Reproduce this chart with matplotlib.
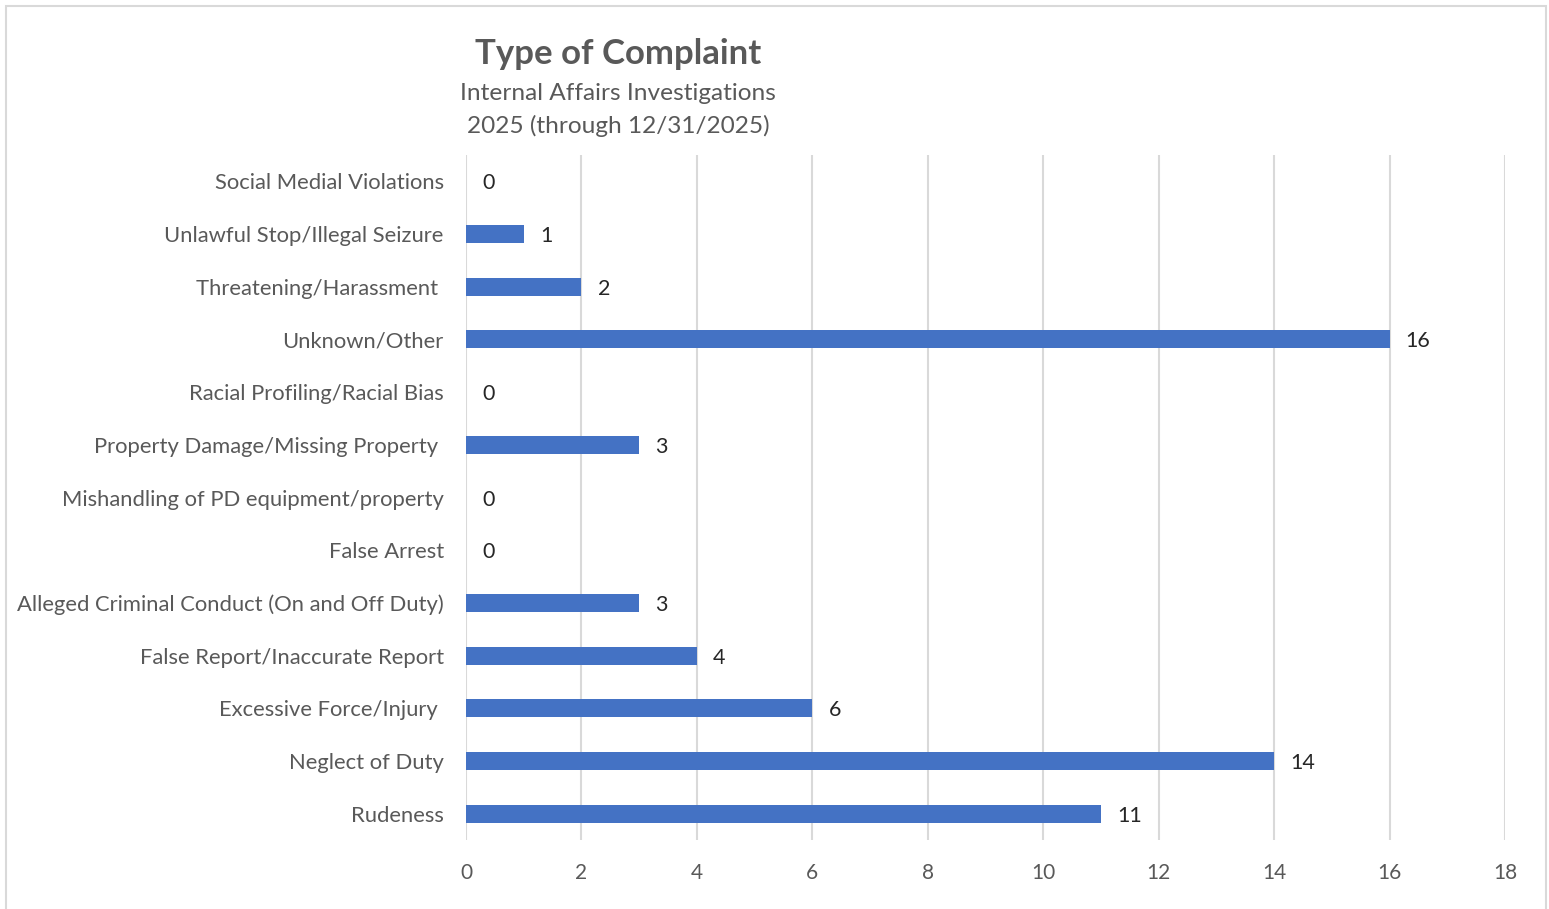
import numpy as np
import matplotlib.pyplot as plt
from matplotlib.patches import Rectangle

categories = ['Social Medial Violations', 'Unlawful Stop/Illegal Seizure', 'Threatening/Harassment ',
              'Unknown/Other', 'Racial Profiling/Racial Bias', 'Property Damage/Missing Property ',
              'Mishandling of PD equipment/property', 'False Arrest',
              'Alleged Criminal Conduct (On and Off Duty)', 'False Report/Inaccurate Report',
              'Excessive Force/Injury ', 'Neglect of Duty', 'Rudeness']
counts = [0, 1, 2, 16, 0, 3, 0, 0, 3, 4, 6, 14, 11]
xticks = [0, 2, 4, 6, 8, 10, 12, 14, 16, 18]

plt.rcParams['font.family'] = ['Lato', 'DejaVu Sans']
txt = '#595959'
bar_color = '#4472C4'

W, H = 1549, 909
fig = plt.figure(figsize=(W / 100, H / 100), dpi=100)
ax = fig.add_axes([466 / W, 1 - 840 / H, (1505 - 466) / W, (840 - 155) / H])

y = np.arange(len(categories))
ax.barh(y, counts, height=0.34, color=bar_color, zorder=3)
for yi, c in zip(y, counts):
    ax.text(c + 0.28, yi, str(c), va='center_baseline', ha='left', fontsize=15.5, color='#262626')

ax.set_xlim(0, 18)
ax.set_ylim(len(categories) - 0.5, -0.5)
ax.set_xticks(xticks)
ax.set_yticks(y)
ax.set_yticklabels(categories, fontsize=15.8, color=txt)
ax.tick_params(axis='x', labelsize=15, labelcolor=txt, length=0, pad=16.5)
ax.tick_params(axis='y', length=0, pad=16)
for lab in ax.get_yticklabels():
    lab.set_verticalalignment('center_baseline')
ax.grid(axis='x', color='#D9D9D9', linewidth=1.5, zorder=0)
for s in ax.spines.values():
    s.set_visible(False)

fig.text(618 / W, 1 - 54 / H, 'Type of Complaint', ha='center', va='center',
         fontsize=25, fontweight='bold', color=txt)
fig.text(618 / W, 1 - 94 / H, 'Internal Affairs Investigations', ha='center', va='center',
         fontsize=17.6, color=txt)
fig.text(618 / W, 1 - 126 / H, '2025 (through 12/31/2025)', ha='center', va='center',
         fontsize=17.6, color=txt)

fig.patches.append(Rectangle((6 / W, -0.01), (1546 - 6) / W, 1 - 6 / H + 0.01,
                             transform=fig.transFigure, fill=False,
                             edgecolor='#D9D9D9', linewidth=1.5))

fig.savefig('out.png', dpi=100)
